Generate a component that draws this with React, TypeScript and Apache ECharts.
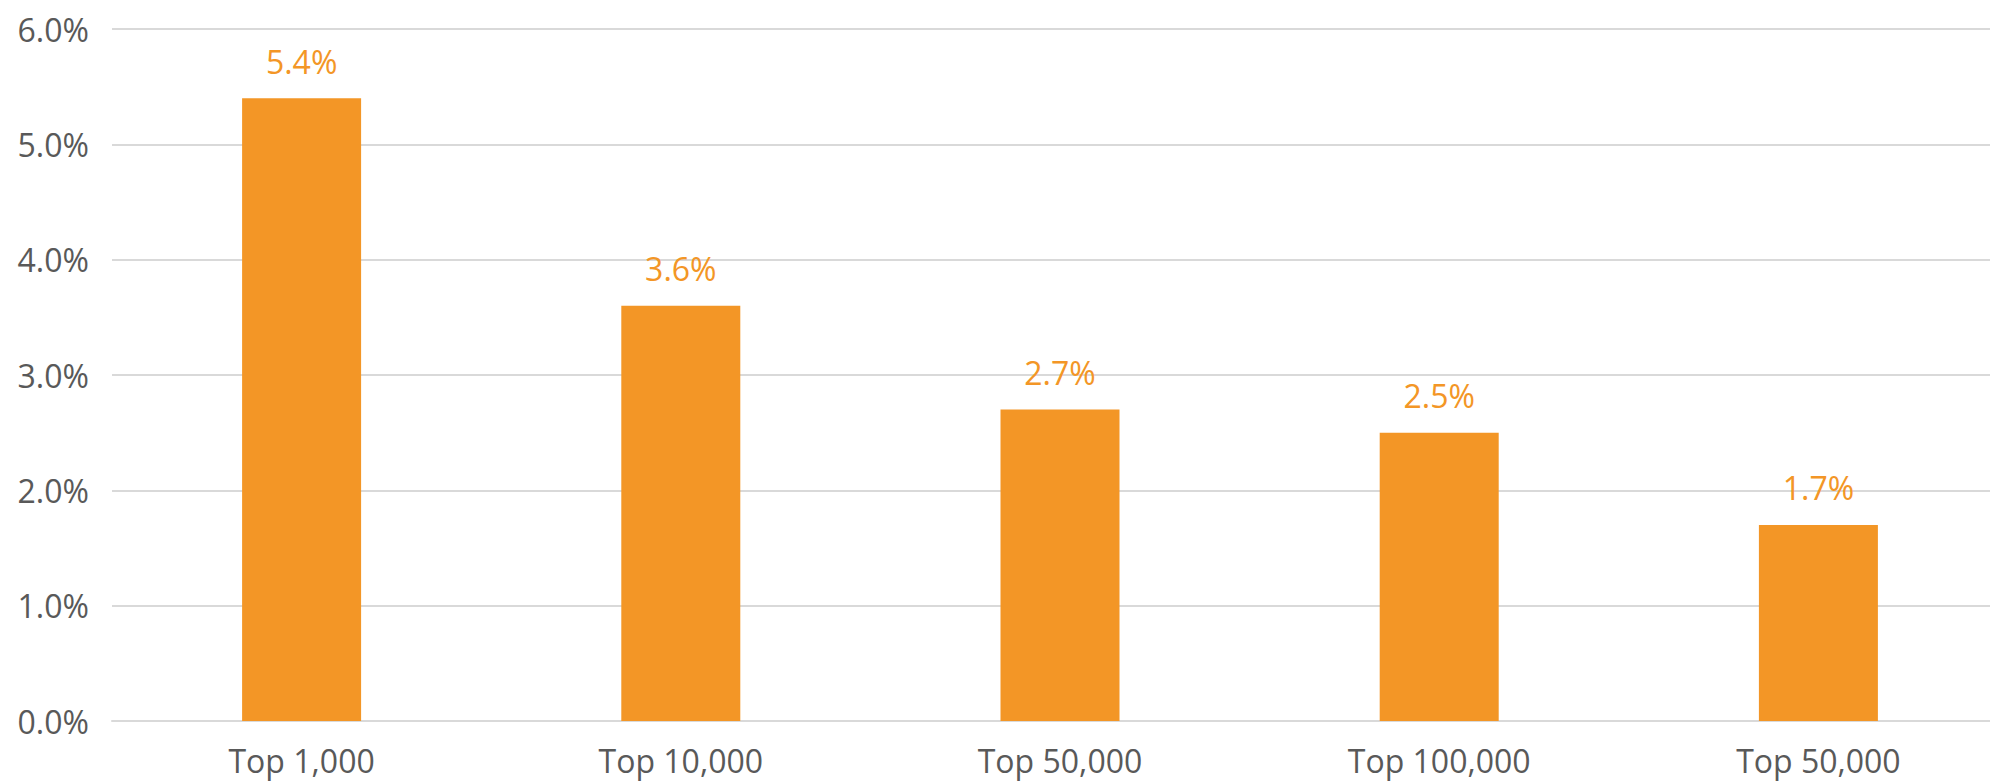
import React, { useEffect, useRef } from "react";
import * as echarts from "echarts";

const categories = ["Top 1,000", "Top 10,000", "Top 50,000", "Top 100,000", "Top 50,000"];
const values = [5.4, 3.6, 2.7, 2.5, 1.7];
const yTicks = { min: 0, max: 6, interval: 1 };

export default function App() {
  const ref = useRef<HTMLDivElement>(null);
  useEffect(() => {
    if (!ref.current) return;
    const chart = echarts.init(ref.current, null, { renderer: "svg" });
    const font = "'Open Sans', 'Noto Sans', sans-serif";
    chart.setOption({
      animation: false,
      backgroundColor: "#ffffff",
      grid: {
        left: 112,
        width: 1896,
        top: 29,
        bottom: 61,
        containLabel: false,
        outerBoundsMode: "none",
      },
      xAxis: {
        type: "category",
        data: categories.map((c, i) => c + "\u200b".repeat(i)),
        axisLine: { show: true, lineStyle: { color: "#d9d9d9", width: 2 } },
        axisTick: { show: false },
        axisLabel: {
          color: "#595959",
          fontSize: 32,
          fontFamily: font,
          margin: 23,
          interval: 0,
          formatter: (v: string) => v.replace(/\u200b/g, ""),
        },
        splitLine: { show: false },
      },
      yAxis: {
        type: "value",
        min: yTicks.min,
        max: yTicks.max,
        interval: yTicks.interval,
        axisLine: { show: false },
        axisTick: { show: false },
        axisLabel: {
          color: "#595959",
          fontSize: 32,
          fontFamily: font,
          margin: 23,
          formatter: (v: number) => v.toFixed(1) + "%",
        },
        splitLine: { show: true, lineStyle: { color: "#d9d9d9", width: 2 } },
      },
      series: [
        {
          type: "bar",
          data: values,
          barWidth: 119,
          itemStyle: { color: "#F39626" },
          label: {
            show: true,
            position: "top",
            distance: 21,
            color: "#F39626",
            fontSize: 32,
            fontFamily: font,
            formatter: (p: any) => Number(p.value).toFixed(1) + "%",
          },
        },
      ],
    });
    return () => chart.dispose();
  }, []);
  return (
    <div
      ref={ref}
      style={{ position: "absolute", left: 0, top: 0, width: 1990, height: 782 }}
    />
  );
}
